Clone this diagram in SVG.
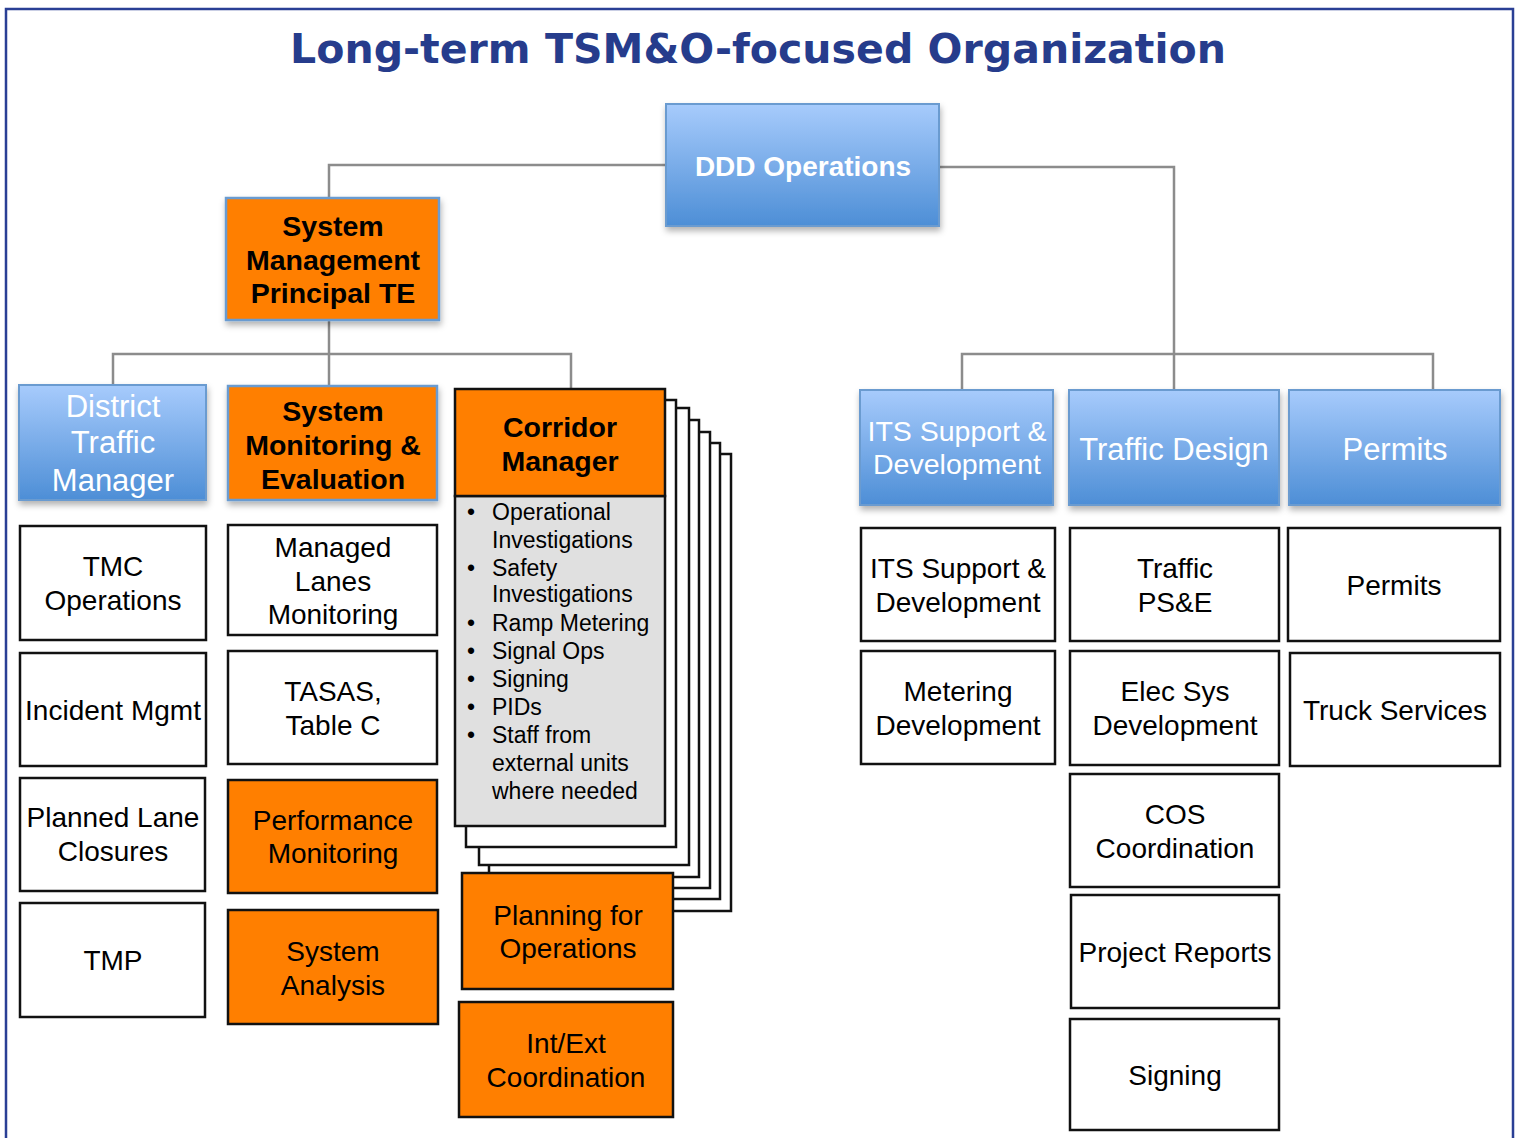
<svg xmlns="http://www.w3.org/2000/svg" width="1518" height="1138" viewBox="0 0 1518 1138">
<defs>
<linearGradient id="blue" x1="0" y1="0" x2="0" y2="1">
<stop offset="0" stop-color="#a7cbfc"/>
<stop offset="1" stop-color="#4d8ed6"/>
</linearGradient>
<filter id="sh" x="-10%" y="-10%" width="125%" height="130%">
<feDropShadow dx="1" dy="4" stdDeviation="3" flood-color="#000" flood-opacity="0.3"/>
</filter>
<style>
.bl{fill:url(#blue);stroke:#6a9bd0;stroke-width:2;filter:url(#sh)}
.or{fill:#ff7f00;stroke:#6a9bd0;stroke-width:2.5;filter:url(#sh)}
.ob{fill:#ff7f00;stroke:#111;stroke-width:2.5}
.wh{fill:#fff;stroke:#111;stroke-width:2.5}
.gr{fill:#e0e0e0;stroke:#111;stroke-width:2.5}
.pg{fill:#fff;stroke:#111;stroke-width:2.5}
.con{fill:none;stroke:#8c8c8c;stroke-width:2.5}
text{font-family:"Liberation Sans",Arial,sans-serif;text-anchor:middle}
.tw{fill:#fff;font-size:31px}
.twb{fill:#fff;font-size:28px;font-weight:bold}
.tb{fill:#000;font-size:28.5px;font-weight:bold}
.tn{fill:#000;font-size:28px}
.li{fill:#000;font-size:23px;text-anchor:start}
</style>
</defs>
<rect width="1518" height="1138" fill="#fff"/>
<path d="M6,1140 V9 H1513 V1140" fill="none" stroke="#2a3f95" stroke-width="2.5"/>
<text x="758" y="63" style="font-family:'DejaVu Sans',Verdana,sans-serif;font-weight:bold;font-size:40px;fill:#263c8c" textLength="936" lengthAdjust="spacingAndGlyphs">Long-term TSM&amp;O-focused Organization</text>

<g id="connectors">
<path class="con" d="M666,165 H329 V198"/>
<path class="con" d="M939,167 H1174 V390"/>
<path class="con" d="M962,390 V354 H1433 V390"/>
<path class="con" d="M329,320 V386"/>
<path class="con" d="M113,393 V354 H571 V389"/>
</g>

<g id="ddd-operations">
<rect class="bl" x="666" y="104" width="273" height="122"/>
<text class="twb" x="803" y="176">DDD Operations</text>
</g>

<g id="system-management">
<rect class="or" x="226" y="198" width="213" height="122"/>
<text class="tb" x="333" y="236">System</text>
<text class="tb" x="333" y="270">Management</text>
<text class="tb" x="333" y="303">Principal TE</text>
</g>

<g id="district-traffic-manager">
<rect class="bl" x="19" y="385" width="187" height="115"/>
<text class="tw" x="113" y="417">District</text>
<text class="tw" x="113" y="453">Traffic</text>
<text class="tw" x="113" y="491">Manager</text>
</g>

<g id="system-monitoring">
<rect class="or" x="228" y="386" width="209" height="114"/>
<text class="tb" x="333" y="421">System</text>
<text class="tb" x="333" y="455">Monitoring &amp;</text>
<text class="tb" x="333" y="489">Evaluation</text>
</g>

<g id="corridor-manager">
<rect class="pg" x="521" y="454" width="210" height="457"/>
<rect class="pg" x="510" y="443" width="210" height="456"/>
<rect class="pg" x="499" y="432" width="211" height="456"/>
<rect class="pg" x="489" y="420" width="210" height="457"/>
<rect class="pg" x="479" y="408" width="210" height="457"/>
<rect class="pg" x="466" y="400" width="210" height="447"/>
<rect class="gr" x="455" y="496" width="210" height="330"/>
<rect class="ob" x="455" y="389" width="210" height="107"/>
<text class="tb" x="560" y="437">Corridor</text>
<text class="tb" x="560" y="471">Manager</text>
<text class="li" x="467" y="520">•</text><text class="li" x="492" y="520">Operational</text>
<text class="li" x="492" y="548">Investigations</text>
<text class="li" x="467" y="576">•</text><text class="li" x="492" y="576">Safety</text>
<text class="li" x="492" y="602">Investigations</text>
<text class="li" x="467" y="631">•</text><text class="li" x="492" y="631">Ramp Metering</text>
<text class="li" x="467" y="659">•</text><text class="li" x="492" y="659">Signal Ops</text>
<text class="li" x="467" y="687">•</text><text class="li" x="492" y="687">Signing</text>
<text class="li" x="467" y="715">•</text><text class="li" x="492" y="715">PIDs</text>
<text class="li" x="467" y="743">•</text><text class="li" x="492" y="743">Staff from</text>
<text class="li" x="492" y="771">external units</text>
<text class="li" x="492" y="799">where needed</text>
</g>

<g id="tmc-operations">
<rect class="wh" x="20" y="526" width="186" height="114"/>
<text class="tn" x="113" y="576">TMC</text>
<text class="tn" x="113" y="610">Operations</text>
</g>
<g id="incident-mgmt">
<rect class="wh" x="20" y="653" width="186" height="113"/>
<text class="tn" x="113" y="720">Incident Mgmt</text>
</g>
<g id="planned-lane-closures">
<rect class="wh" x="20" y="778" width="185" height="113"/>
<text class="tn" x="113" y="827">Planned Lane</text>
<text class="tn" x="113" y="861">Closures</text>
</g>
<g id="tmp">
<rect class="wh" x="20" y="903" width="185" height="114"/>
<text class="tn" x="113" y="970">TMP</text>
</g>

<g id="managed-lanes">
<rect class="wh" x="228" y="525" width="209" height="110"/>
<text class="tn" x="333" y="557">Managed</text>
<text class="tn" x="333" y="591">Lanes</text>
<text class="tn" x="333" y="624">Monitoring</text>
</g>
<g id="tasas">
<rect class="wh" x="228" y="651" width="209" height="113"/>
<text class="tn" x="333" y="701">TASAS,</text>
<text class="tn" x="333" y="735">Table C</text>
</g>
<g id="performance-monitoring">
<rect class="ob" x="228" y="780" width="209" height="113"/>
<text class="tn" x="333" y="830">Performance</text>
<text class="tn" x="333" y="863">Monitoring</text>
</g>
<g id="system-analysis">
<rect class="ob" x="228" y="910" width="210" height="114"/>
<text class="tn" x="333" y="961">System</text>
<text class="tn" x="333" y="995">Analysis</text>
</g>

<g id="planning-for-operations">
<rect class="ob" x="462" y="873" width="211" height="116"/>
<text class="tn" x="568" y="925">Planning for</text>
<text class="tn" x="568" y="958">Operations</text>
</g>
<g id="int-ext-coordination">
<rect class="ob" x="459" y="1002" width="214" height="115"/>
<text class="tn" x="566" y="1053">Int/Ext</text>
<text class="tn" x="566" y="1087">Coordination</text>
</g>

<g id="its-support-blue">
<rect class="bl" x="860" y="390" width="193" height="115"/>
<text class="tw" x="957" y="441" style="font-size:28.5px">ITS Support &amp;</text>
<text class="tw" x="957" y="474" style="font-size:28.5px">Development</text>
</g>
<g id="traffic-design">
<rect class="bl" x="1069" y="390" width="210" height="115"/>
<text class="tw" x="1174" y="460">Traffic Design</text>
</g>
<g id="permits-blue">
<rect class="bl" x="1289" y="390" width="211" height="115"/>
<text class="tw" x="1395" y="460">Permits</text>
</g>

<g id="its-support">
<rect class="wh" x="861" y="528" width="194" height="113"/>
<text class="tn" x="958" y="578">ITS Support &amp;</text>
<text class="tn" x="958" y="612">Development</text>
</g>
<g id="metering-development">
<rect class="wh" x="861" y="651" width="194" height="113"/>
<text class="tn" x="958" y="701">Metering</text>
<text class="tn" x="958" y="735">Development</text>
</g>
<g id="traffic-pse">
<rect class="wh" x="1070" y="528" width="209" height="113"/>
<text class="tn" x="1175" y="578">Traffic</text>
<text class="tn" x="1175" y="612">PS&amp;E</text>
</g>
<g id="elec-sys">
<rect class="wh" x="1070" y="651" width="209" height="114"/>
<text class="tn" x="1175" y="701">Elec Sys</text>
<text class="tn" x="1175" y="735">Development</text>
</g>
<g id="cos-coordination">
<rect class="wh" x="1070" y="774" width="209" height="113"/>
<text class="tn" x="1175" y="824">COS</text>
<text class="tn" x="1175" y="858">Coordination</text>
</g>
<g id="project-reports">
<rect class="wh" x="1071" y="895" width="208" height="113"/>
<text class="tn" x="1175" y="962">Project Reports</text>
</g>
<g id="signing">
<rect class="wh" x="1070" y="1019" width="209" height="111"/>
<text class="tn" x="1175" y="1085">Signing</text>
</g>
<g id="permits">
<rect class="wh" x="1288" y="528" width="212" height="113"/>
<text class="tn" x="1394" y="595">Permits</text>
</g>
<g id="truck-services">
<rect class="wh" x="1290" y="653" width="210" height="113"/>
<text class="tn" x="1395" y="720">Truck Services</text>
</g>
</svg>
